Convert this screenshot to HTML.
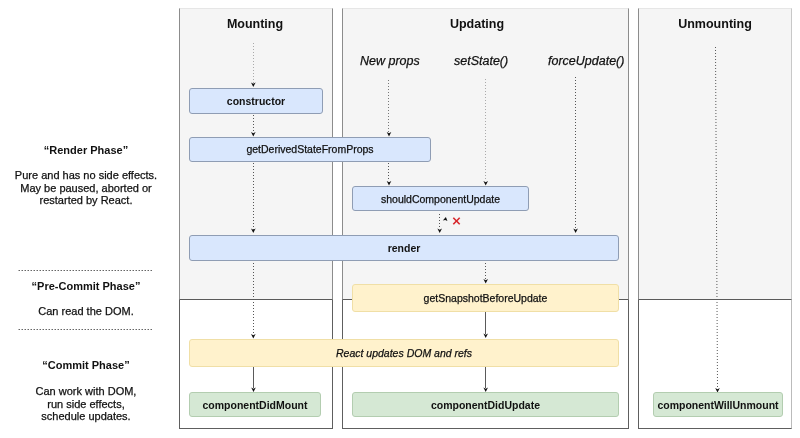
<!DOCTYPE html>
<html><head><meta charset="utf-8">
<style>
*{margin:0;padding:0;box-sizing:border-box}
html,body{width:800px;height:438px;background:#fff;overflow:hidden;font-family:"Liberation Sans",sans-serif;color:#111}
.ct{position:absolute;top:8px;height:292px;border:1px solid #8c8c8c;border-top-color:#e6e6e6;border-bottom-color:#5a5a5a;background:#f5f5f5}
.cb{position:absolute;top:300px;height:129px;border:1px solid #5e5e5e;border-top:0;background:#fff}
.h{position:absolute;font-weight:bold;font-size:12.5px;line-height:12.5px;white-space:nowrap;text-align:center}
.it{position:absolute;font-style:italic;font-size:12.5px;line-height:13px;white-space:nowrap}
.box{position:absolute;border-radius:3px;font-size:10.5px;text-align:center;white-space:nowrap;display:flex;align-items:center;justify-content:center}
.b{background:#d9e7fd;border:1px solid #8f9db4}
.y{background:#fff2cc;border:1px solid #f0dfa6}
.g{background:#d5e8d4;border:1px solid #b3cdb0}
.bold{font-weight:bold}
.lt{position:absolute;left:1px;width:170px;text-align:center;font-size:11px;line-height:12.5px}
svg{position:absolute;left:0;top:0}
.box,.lt,.h,.it{will-change:transform}
.box:not(.bold),.lt:not(.bold),.it{-webkit-text-stroke:0.25px #111}
</style></head><body>
<div class="ct" style="left:179px;width:154px"></div>
<div class="cb" style="left:179px;width:154px"></div>
<div class="ct" style="left:342px;width:287px"></div>
<div class="cb" style="left:342px;width:287px"></div>
<div class="ct" style="left:638px;width:154px;border-right-color:#c8c8c8"></div>
<div class="cb" style="left:638px;width:154px;border-right-color:#bbb"></div>

<div class="h" style="left:178px;width:154px;top:17.6px">Mounting</div>
<div class="h" style="left:432px;width:90px;top:17.6px">Updating</div>
<div class="h" style="left:638px;width:154px;top:17.6px">Unmounting</div>

<div class="it" style="left:360px;top:55px">New props</div>
<div class="it" style="left:454px;top:55px">setState()</div>
<div class="it" style="left:547.5px;top:55px">forceUpdate()</div>

<svg width="800" height="438" viewBox="0 0 800 438">
<g stroke="#666" stroke-width="1" stroke-dasharray="1.5 1.5" fill="none">
<line x1="18.5" y1="270.5" x2="152" y2="270.5"/>
<line x1="18.5" y1="329.5" x2="152" y2="329.5"/>
</g>
<g stroke="#aaa" stroke-width="1" stroke-dasharray="1 2" fill="none">
<line x1="253.5" y1="43" x2="253.5" y2="83"/>
<line x1="485.5" y1="79" x2="485.5" y2="181"/>
</g>
<g stroke="#777" stroke-width="1" stroke-dasharray="1 2" fill="none">
<line x1="388.5" y1="80" x2="388.5" y2="132"/>
</g>
<g stroke="#555" stroke-width="1" stroke-dasharray="1 2" fill="none">
<line x1="253.5" y1="115" x2="253.5" y2="132"/>
<line x1="253.5" y1="163" x2="253.5" y2="230"/>
<line x1="253.5" y1="263" x2="253.5" y2="334"/>
<line x1="388.5" y1="163" x2="388.5" y2="181"/>
<line x1="575.5" y1="77" x2="575.5" y2="230"/>
<line x1="439.5" y1="214" x2="439.5" y2="229"/>
<line x1="485.5" y1="263" x2="485.5" y2="279"/>
<line x1="715.5" y1="47" x2="717.5" y2="387"/>
</g>
<g stroke="#5a5a5a" stroke-width="1" fill="none">
<line x1="253.5" y1="367" x2="253.5" y2="388"/>
<line x1="485.5" y1="312" x2="485.5" y2="334"/>
<line x1="485.5" y1="367" x2="485.5" y2="388"/>
</g>
<g fill="#111">
<path id="ah" d="M-2.3 -4 L0 -2.8 L2.3 -4 L0 0.5 Z" transform="translate(253.3 86.5)"/>
<use href="#ah" transform="translate(0 49.5)"/>
<use href="#ah" transform="translate(0 146)"/>
<use href="#ah" transform="translate(0 251.5)"/>
<use href="#ah" transform="translate(0.2 305)"/>
<use href="#ah" transform="translate(135.7 49.5)"/>
<use href="#ah" transform="translate(135.7 98.5)"/>
<use href="#ah" transform="translate(232.4 98.5)"/>
<use href="#ah" transform="translate(322.3 146)"/>
<use href="#ah" transform="translate(186.4 146)"/>
<use href="#ah" transform="translate(232.4 196.5)"/>
<use href="#ah" transform="translate(232.4 251)"/>
<use href="#ah" transform="translate(232.4 305)"/>
<use href="#ah" transform="translate(464.2 305.5)"/>
<path d="M442.8 220.6 L445.9 216.9 L447.4 221 L445.2 219.9 Z"/>
</g>
<g stroke="#d7262b" stroke-width="1.6" stroke-linecap="butt">
<line x1="453.3" y1="217.8" x2="459.7" y2="224.2"/>
<line x1="459.7" y1="217.8" x2="453.3" y2="224.2"/>
</g>
</svg>

<div class="box b bold" style="left:189px;top:88px;width:134px;height:26px">constructor</div>
<div class="box b" style="left:189px;top:137px;width:242px;height:25px;padding-bottom:1.5px">getDerivedStateFromProps</div>
<div class="box b" style="left:352px;top:186px;width:177px;height:25px">shouldComponentUpdate</div>
<div class="box b bold" style="left:189px;top:235px;width:430px;height:26px">render</div>
<div class="box y" style="left:352px;top:284px;width:267px;height:28px">getSnapshotBeforeUpdate</div>
<div class="box y" style="left:189px;top:339px;width:430px;height:28px;font-style:italic">React updates DOM and refs</div>
<div class="box g bold" style="left:189px;top:392px;width:132px;height:25px">componentDidMount</div>
<div class="box g bold" style="left:352px;top:392px;width:267px;height:25px">componentDidUpdate</div>
<div class="box g bold" style="left:653px;top:392px;width:130px;height:25px">componentWillUnmount</div>

<div class="lt bold" style="top:143.6px">“Render Phase”</div>
<div class="lt" style="top:169px">Pure and has no side effects.<br>May be paused, aborted or<br>restarted by React.</div>
<div class="lt bold" style="top:280px">“Pre-Commit Phase”</div>
<div class="lt" style="top:305px">Can read the DOM.</div>
<div class="lt bold" style="top:359px">“Commit Phase”</div>
<div class="lt" style="top:385px">Can work with DOM,<br>run side effects,<br>schedule updates.</div>
</body></html>
